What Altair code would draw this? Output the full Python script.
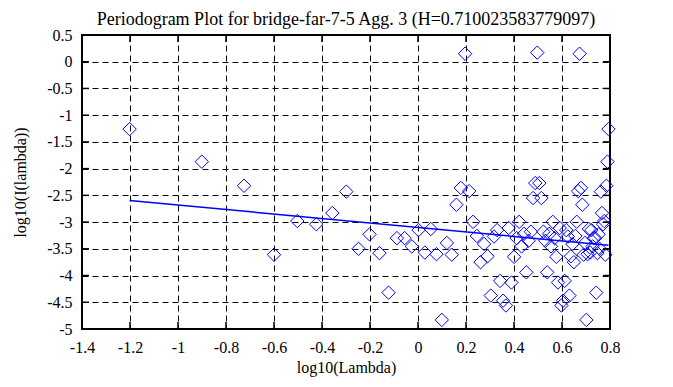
import altair as alt
import pandas as pd

# log10(Lambda) for each periodogram frequency (k = 1..99)
lam = [-1.2018, -0.9008, -0.7247, -0.5998, -0.5029, -0.4237, -0.3568, -0.2988, -0.2476, -0.2018,
       -0.1604, -0.1226, -0.0879, -0.0557, -0.0257, 0.0023, 0.0286, 0.0534, 0.0769, 0.0992,
       0.1204, 0.1406, 0.1599, 0.1784, 0.1961, 0.2131, 0.2295, 0.2453, 0.2606, 0.2753,
       0.2895, 0.3033, 0.3167, 0.3296, 0.3422, 0.3545, 0.3664, 0.3779, 0.3892, 0.4002,
       0.4109, 0.4214, 0.4316, 0.4416, 0.4514, 0.4609, 0.4703, 0.4794, 0.4884, 0.4971,
       0.5057, 0.5142, 0.5224, 0.5306, 0.5385, 0.5464, 0.5540, 0.5616, 0.5690, 0.5763,
       0.5835, 0.5906, 0.5975, 0.6043, 0.6111, 0.6177, 0.6242, 0.6307, 0.6370, 0.6433,
       0.6494, 0.6555, 0.6615, 0.6674, 0.6732, 0.6790, 0.6847, 0.6903, 0.6958, 0.7013,
       0.7067, 0.7120, 0.7172, 0.7224, 0.7276, 0.7327, 0.7377, 0.7426, 0.7476, 0.7524,
       0.7572, 0.7620, 0.7666, 0.7713, 0.7759, 0.7804, 0.7849, 0.7894, 0.7938]

# log10(I(lambda))
ilam = [-1.26, -1.87, -2.32, -3.61, -2.98, -3.04, -2.83, -2.43, -3.50, -3.23,
        -3.58, -4.32, -3.30, -3.30, -3.455, -3.15, -3.57, -3.13, -3.60, -4.83,
        -3.39, -3.61, -2.675, -2.36, 0.15, -2.42, -2.995, -3.26, -3.75, -3.41,
        -3.64, -4.375, -3.27, -3.15, -4.10, -4.47, -4.56, -3.11, -4.13, -3.65,
        -3.30, -2.995, -3.455, -3.22, -3.94, -3.35, -3.18, -2.55, -2.27, 0.17,
        -2.27, -2.55, -3.18, -3.35, -3.94, -3.22, -3.455, -2.995, -3.30, -3.65,
        -4.13, -3.11, -4.56, -4.47, -4.10, -3.15, -3.27, -4.375, -3.64, -3.41,
        -3.75, -3.26, -2.995, -2.42, 0.15, -2.36, -2.675, -3.61, -3.39, -4.83,
        -3.60, -3.13, -3.57, -3.15, -3.455, -3.30, -3.30, -4.32, -3.58, -3.23,
        -3.50, -2.43, -2.83, -3.04, -2.98, -3.61, -2.32, -1.87, -1.26]

# fitted line end points
fit_x = [-1.2018, 0.7938]
fit_y = [-2.596, -3.434]

x_ticks = [-1.4, -1.2, -1.0, -0.8, -0.6, -0.4, -0.2, 0.0, 0.2, 0.4, 0.6, 0.8]
y_ticks = [0.5, 0.0, -0.5, -1.0, -1.5, -2.0, -2.5, -3.0, -3.5, -4.0, -4.5, -5.0]

title = "Periodogram Plot for bridge-far-7-5 Agg. 3 (H=0.710023583779097)"

W, H = 528, 294
FONT = "Liberation Serif"
BLUE = "#0000ff"

pts = pd.DataFrame({"x": lam, "y": ilam})
fit = pd.DataFrame({"x": fit_x, "y": fit_y})
xt = pd.DataFrame({"v": x_ticks})
yt = pd.DataFrame({"v": y_ticks})

xscale = alt.Scale(domain=[-1.4, 0.8], nice=False, zero=False)
yscale = alt.Scale(domain=[-5, 0.5], nice=False, zero=False)

common = dict(grid=True, ticks=False, domain=False, labelPadding=10,
              labelFont=FONT, labelFontSize=16, labelColor="black",
              titleFont=FONT, titleFontSize=16, titleColor="black", titleFontWeight="normal",
              gridColor="black", gridDash=[6, 4], gridWidth=1, gridOpacity=1,
              labelFlush=False, labelOverlap=False)
xaxis = alt.Axis(values=x_ticks, labelExpr="datum.value + ''", title="log10(Lambda)",
                 titlePadding=4, **common)
yaxis = alt.Axis(values=y_ticks, labelExpr="datum.value + ''", title="log10(I(lambda))",
                 titlePadding=18, **common)

X = lambda f: alt.X(f, scale=xscale, axis=xaxis)
Y = lambda f: alt.Y(f, scale=yscale, axis=yaxis)

points = alt.Chart(pts).mark_point(shape="diamond", size=180, filled=False,
                                   color=BLUE, strokeWidth=1, opacity=1).encode(
    x=X("x:Q"), y=Y("y:Q"))

line = alt.Chart(fit).mark_line(color=BLUE, strokeWidth=1.5).encode(
    x=X("x:Q"), y=Y("y:Q"))

TL = 7
xt_bot = alt.Chart(xt).mark_rule(color="black", strokeWidth=1.5).encode(
    x=X("v:Q"), y=alt.value(H - TL), y2=alt.value(H))
xt_top = alt.Chart(xt).mark_rule(color="black", strokeWidth=1.5).encode(
    x=X("v:Q"), y=alt.value(0), y2=alt.value(TL))
yt_left = alt.Chart(yt).mark_rule(color="black", strokeWidth=1.5).encode(
    y=Y("v:Q"), x=alt.value(0), x2=alt.value(TL))
yt_right = alt.Chart(yt).mark_rule(color="black", strokeWidth=1.5).encode(
    y=Y("v:Q"), x=alt.value(W - TL), x2=alt.value(W))

chart = alt.layer(points, line, xt_bot, xt_top, yt_left, yt_right).properties(
    width=W, height=H,
    title=alt.Title(title, font=FONT, fontSize=18, fontWeight="normal", color="black",
                    anchor="middle", offset=-2),
    autosize=alt.AutoSizeParams(type="none"),
    padding={"left": 74, "top": 27, "right": 45, "bottom": 50},
    background="white",
).configure_view(
    stroke="black", strokeWidth=2
)

chart.save("out.html", embed_options={"renderer": "svg", "actions": False})
